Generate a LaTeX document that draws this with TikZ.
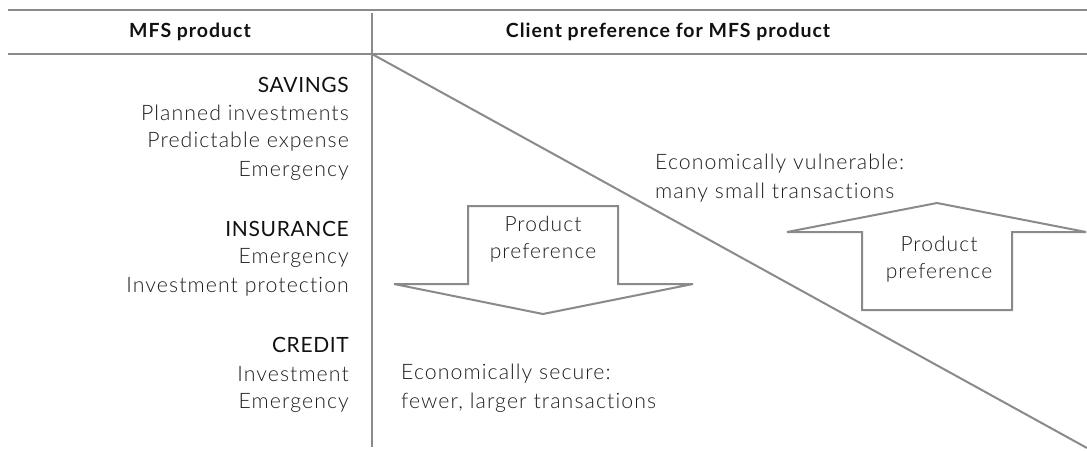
\documentclass[tikz,border=0pt]{standalone}
\usepackage{fontspec}
\setmainfont{Lato}[UprightFont=* Light, BoldFont=* Bold, LetterSpace=5, Ligatures={NoCommon}]
\newfontfamily\catfont{Lato}[LetterSpace=3, Ligatures={NoCommon}]
\definecolor{rulecol}{HTML}{8A8A8A}
\definecolor{txtcol}{HTML}{1E1E1E}
\definecolor{headcol}{HTML}{111111}
\tikzset{
  rulestyle/.style={draw=rulecol, line width=2pt},
  arrowshape/.style={draw=rulecol, line width=2pt, fill=white, line join=miter},
  body/.style={text=txtcol, font=\fontsize{21.3}{24}\selectfont, inner sep=0pt},
  cat/.style={text=headcol, font=\catfont\fontsize{21}{24}\selectfont, inner sep=0pt},
  colhead/.style={text=headcol, font=\bfseries\fontsize{19.5}{22}\selectfont, inner sep=0pt},
  arrtext/.style={text=txtcol, font=\fontsize{21}{27}\selectfont, align=center, inner sep=0pt}
}
\begin{document}
\begin{tikzpicture}[x=1pt,y=-1pt]
\useasboundingbox (0,0) rectangle (1087,450);
% table rules
\coordinate (tl) at (8,10);
\coordinate (tr) at (1087,10);
\coordinate (hl) at (8,54);
\coordinate (hr) at (1087,54);
\coordinate (vt) at (372,13);
\coordinate (vb) at (372,447);
\coordinate (dS) at (372,54);
\coordinate (dE) at (1087,448);
\draw[rulestyle] (tl) -- (tr);
\draw[rulestyle] (hl) -- (hr);
\draw[rulestyle] (vt) -- (vb);
\draw[rulestyle] (dS) -- (dE);
% headers
\node[colhead] (h1) at (190,32) {MFS product};
\node[colhead] (h2) at (668,32) {Client preference for MFS product};
% left column
\node[cat,anchor=east] (sav) at (349,85) {SAVINGS};
\node[body,anchor=east] (s1) at (349,113) {Planned investments};
\node[body,anchor=east] (s2) at (349,142) {Predictable expense};
\node[body,anchor=east] (s3) at (349,171) {Emergency};
\node[cat,anchor=east] (ins) at (349,229) {INSURANCE};
\node[body,anchor=east] (i1) at (349,258) {Emergency};
\node[body,anchor=east] (i2) at (349,287) {Investment protection};
\node[cat,anchor=east] (cre) at (349,345) {CREDIT};
\node[body,anchor=east] (c1) at (349,374) {Investment};
\node[body,anchor=east] (c2) at (349,403) {Emergency};
% down arrow
\draw[arrowshape] (468,206) -- (618,206) -- (618,284) -- (693,284) -- (543,314)
  -- (394,284) -- (468,284) -- cycle;
\node[arrtext] (pd) at (543,239) {Product\\preference};
% up arrow
\draw[arrowshape] (862,310) -- (1012,310) -- (1012,232) -- (1086,232) -- (937,203)
  -- (787,232) -- (862,232) -- cycle;
\node[arrtext] (pu) at (939,259) {Product\\preference};
% descriptions
\node[body,anchor=west] (v1) at (655,164) {Economically vulnerable:};
\node[body,anchor=west] (v2) at (655,193) {many small transactions};
\node[body,anchor=west] (e1) at (401,374) {Economically secure:};
\node[body,anchor=west] (e2) at (401,403) {fewer, larger transactions};
\end{tikzpicture}
\end{document}
